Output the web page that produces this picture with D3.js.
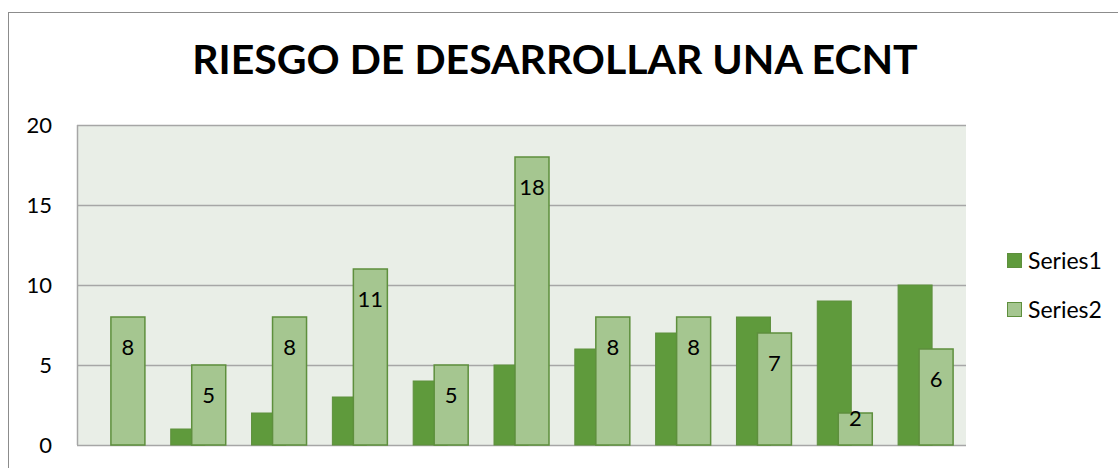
<!DOCTYPE html>
<html>
<head>
<meta charset="utf-8">
<script src="https://cdn.jsdelivr.net/npm/d3@7"></script>
<style>
  body { margin: 0; background: #fff; }
  svg { display: block; font-family: Lato, "Open Sans", sans-serif; }
</style>
</head>
<body>
<div id="chart"></div>
<script>
// chart data
const categories = ["1", "2", "3", "4", "5", "6", "7", "8", "9", "10", "11"];
const series1 = [0, 1, 2, 3, 4, 5, 6, 7, 8, 9, 10];
const series2 = [8, 5, 8, 11, 5, 18, 8, 8, 7, 2, 6];
const seriesNames = ["Series1", "Series2"];
const yTicks = [0, 5, 10, 15, 20];
const title = "RIESGO DE DESARROLLAR UNA ECNT";

const W = 1118, H = 468;
const margin = { top: 125, right: 152, bottom: 23, left: 77 };
const width = W - margin.left - margin.right;
const height = H - margin.top - margin.bottom;

const colors = { s1: "#5f9a3c", s2: "#a5c690", stroke: "#5e8f3d" };

const svg = d3.select("#chart")
    .append("svg")
    .attr("width", W)
    .attr("height", H);

// outer frame
svg.append("rect")
    .attr("x", 8.5).attr("y", 12.5)
    .attr("width", W + 20).attr("height", H + 20)
    .attr("fill", "none")
    .attr("stroke", "#8c8c8c");

const g = svg.append("g")
    .attr("transform", `translate(${margin.left},${margin.top})`);

const x = d3.scaleBand()
    .domain(categories)
    .range([0, width]);

const y = d3.scaleLinear()
    .domain([0, 20])
    .range([height, 0]);

// plot background
g.append("rect")
    .attr("width", width)
    .attr("height", height)
    .attr("fill", "#e9eee7");

// gridlines
g.selectAll(".grid")
    .data(yTicks)
    .enter().append("line")
    .attr("x1", 0).attr("x2", width)
    .attr("y1", d => Math.round(y(d)) + 0.5)
    .attr("y2", d => Math.round(y(d)) + 0.5)
    .attr("stroke", "#a6a6a6")
    .attr("stroke-width", 1.5);

// left axis line
g.append("line")
    .attr("x1", 0.5).attr("x2", 0.5)
    .attr("y1", 0).attr("y2", height)
    .attr("stroke", "#a6a6a6")
    .attr("stroke-width", 1.5);

// y labels
const yAxis = g.append("g")
    .call(d3.axisLeft(y).tickValues(yTicks).tickSize(0).tickPadding(25));
yAxis.select(".domain").remove();
yAxis.selectAll("text")
    .attr("font-family", "Lato, 'Open Sans', sans-serif")
    .attr("font-size", 22)
    .attr("fill", "#000");

const barW = 34;
const shift = 21;

// series1 bars
g.selectAll(".s1")
    .data(series1)
    .enter().append("rect")
    .attr("x", (d, i) => x(categories[i]) + x.bandwidth() / 2 - 27.5)
    .attr("y", d => y(d))
    .attr("width", barW)
    .attr("height", d => y(0) - y(d))
    .attr("fill", colors.s1)
    .attr("stroke", colors.stroke)
    .attr("stroke-width", 1);

// series2 bars
g.selectAll(".s2")
    .data(series2)
    .enter().append("rect")
    .attr("x", (d, i) => x(categories[i]) + x.bandwidth() / 2 - 27.5 + shift)
    .attr("y", d => y(d))
    .attr("width", barW)
    .attr("height", d => y(0) - y(d))
    .attr("fill", colors.s2)
    .attr("stroke", colors.stroke)
    .attr("stroke-width", 1.5);

// series2 labels
g.selectAll(".lbl")
    .data(series2)
    .enter().append("text")
    .attr("x", (d, i) => x(categories[i]) + x.bandwidth() / 2 - 27.5 + shift + barW / 2)
    .attr("y", d => Math.min(y(d) + 30, y(0) - 27))
    .attr("dy", "0.35em")
    .attr("text-anchor", "middle")
    .attr("font-size", 22)
    .text(d => d);

// title
svg.append("text")
    .attr("x", 555)
    .attr("y", 60)
    .attr("dy", "0.35em")
    .attr("text-anchor", "middle")
    .attr("font-weight", "bold")
    .attr("font-size", 41)
    .text(title);

// legend
const legend = svg.append("g")
    .attr("transform", "translate(1007, 253)");

legend.selectAll("rect")
    .data(seriesNames)
    .enter().append("rect")
    .attr("x", 0.5)
    .attr("y", (d, i) => i * 49 + 0.5)
    .attr("width", 14)
    .attr("height", 14)
    .attr("fill", (d, i) => i === 0 ? colors.s1 : colors.s2)
    .attr("stroke", colors.stroke);

legend.selectAll("text")
    .data(seriesNames)
    .enter().append("text")
    .attr("x", 21)
    .attr("y", (d, i) => i * 49 + 8)
    .attr("dy", "0.35em")
    .attr("font-size", 23)
    .text(d => d);
</script>
</body>
</html>
